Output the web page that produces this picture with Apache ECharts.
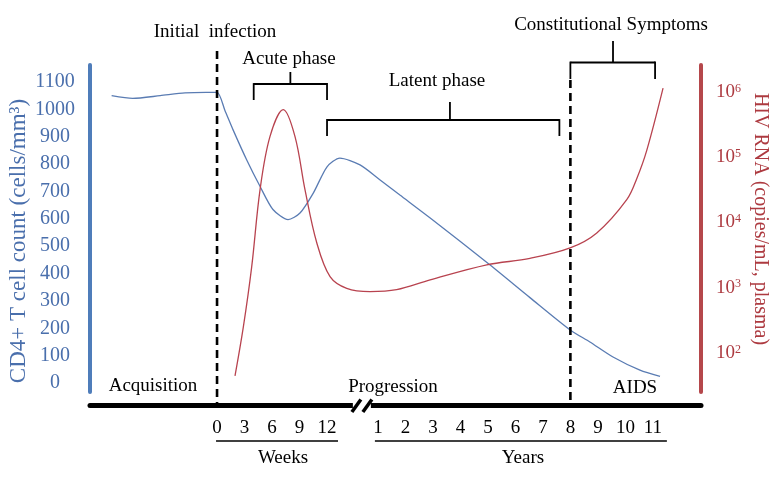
<!DOCTYPE html>
<html><head><meta charset="utf-8">
<script src="https://cdn.jsdelivr.net/npm/echarts@6/dist/echarts.min.js"></script>
<style>html,body{margin:0;padding:0;background:#fff}#c{width:780px;height:481px}</style>
</head><body><div id="c"></div>
<script>
// ---- tick labels ----
const weekTicks = [0, 3, 6, 9, 12];
const yearTicks = [1, 2, 3, 4, 5, 6, 7, 8, 9, 10, 11];
const cd4Ticks = [0, 100, 200, 300, 400, 500, 600, 700, 800, 900, 1000, 1100];
const rnaTicksLog10 = [2, 3, 4, 5, 6];

// ---- CD4+ T cell count (cells/mm3): [weeks, value] then [years, value] ----
const cd4Weeks = [[-11.5,1050],[-9.2,1040],[-6.2,1050],[-3.5,1060],[-1.2,1062],[0,1062],[0.87,995],[1.75,925],[3.24,815],[4.7,718],[6.1,634],[7.75,597],[9.05,621],[10.5,694],[12,790],[13.4,822],[15.6,797]];
const cd4Years = [[1.08,742],[1.8,687],[2.89,604],[5.08,431],[6.53,312],[7.99,194],[8.71,150],[9.55,95],[10.53,47],[11.26,24]];

// ---- HIV RNA (log10 copies/mL): [weeks, value] then [years, value] ----
const rnaWeeks = [[1.96,1.65],[2.87,2.40],[3.78,3.32],[4.69,4.50],[5.78,5.32],[7.23,5.73],[8.5,5.32],[9.6,4.50],[10.88,3.69],[12.33,3.17],[14.15,2.99]];
const rnaYears = [[0.71,2.94],[1.68,2.97],[2.9,3.12],[4.96,3.35],[6.53,3.45],[7.99,3.61],[8.96,3.84],[10.05,4.35],[10.42,4.68],[10.78,5.11],[11.37,6.06]];

// timeline with an axis break between weeks and years
const tlWeek = w => w / 3;
const tlYear = y => y + 4.85;

const SERIF = '"Liberation Serif","Times New Roman",serif';
const BLUE = '#5a7cb3', RED = '#b8434f';

const tickPos = [], tickText = {};
weekTicks.forEach(w => { const p = tlWeek(w); tickPos.push(p); tickText[p.toFixed(3)] = String(w); });
yearTicks.forEach(y => { const p = tlYear(y); tickPos.push(p); tickText[p.toFixed(3)] = String(y); });

const cd4Data = cd4Weeks.map(d => [tlWeek(d[0]), d[1]]).concat(cd4Years.map(d => [tlYear(d[0]), d[1]]));
const rnaData = rnaWeeks.map(d => [tlWeek(d[0]), d[1]]).concat(rnaYears.map(d => [tlYear(d[0]), d[1]]));

const chart = echarts.init(document.getElementById('c'), null, {renderer: 'canvas'});
chart.setOption({
  animation: false,
  backgroundColor: '#fff',
  grid: {left: 90, right: 79, top: 65, bottom: 89, containLabel: false},
  xAxis: {
    type: 'value', min: -4.62, max: 17.6, offset: 13,
    axisLine: {show: true, onZero: false, lineStyle: {color: '#000', width: 5}},
    axisTick: {show: false}, splitLine: {show: false},
    axisLabel: {
      customValues: tickPos, margin: 14, color: '#000', fontSize: 19, fontFamily: SERIF,
      formatter: v => tickText[Number(v).toFixed(3)] || ''
    }
  },
  yAxis: [{
    type: 'value', min: -32.9, max: 1162.1, position: 'left',
    axisLine: {show: true, onZero: false, lineStyle: {color: '#4f7dba', width: 4}},
    axisTick: {show: false}, splitLine: {show: false},
    axisLabel: {customValues: cd4Ticks, align: 'center', margin: 35, color: '#4a6fac', fontSize: 20, fontFamily: SERIF,
      formatter: v => String(v)}
  }, {
    type: 'value', min: 1.402, max: 6.414, position: 'right',
    axisLine: {show: true, onZero: false, lineStyle: {color: '#b5474b', width: 4}},
    axisTick: {show: false}, splitLine: {show: false},
    axisLabel: {
      customValues: rnaTicksLog10, align: 'left', margin: 15,
      formatter: v => '{b|10}{s|' + v + '}',
      rich: {
        b: {fontSize: 19, fontFamily: SERIF, color: '#ad3a40'},
        s: {fontSize: 12, fontFamily: SERIF, color: '#ad3a40', verticalAlign: 'top'}
      }
    }
  }],
  series: [{
    name: 'CD4', type: 'line', yAxisIndex: 0, data: cd4Data, smooth: 0.25,
    symbol: 'none', lineStyle: {color: BLUE, width: 1.3}
  }, {
    name: 'HIV RNA', type: 'line', yAxisIndex: 1, data: rnaData, smooth: 0.35,
    symbol: 'none', lineStyle: {color: RED, width: 1.3}
  }]
});

// ---- annotations positioned through the x axis ----
const px = u => chart.convertToPixel({xAxisIndex: 0}, u);
const xInf = px(tlWeek(0)), xAids = px(tlYear(8));
const xBreak = px(tlWeek(15.8));
const G = [];
const line = (x1, y1, x2, y2, w, dash) => G.push({type: 'line', shape: {x1, y1, x2, y2},
  style: {stroke: '#000', lineWidth: w, lineDash: dash || null}, z: 10});
const text = (x, y, t, opt) => G.push(Object.assign({type: 'text', x, y, z: 10,
  style: Object.assign({text: t, fill: '#000', font: '19px ' + SERIF, textAlign: 'center', textVerticalAlign: 'middle'}, opt || {})}));
const bracket = (xa, xb, xm, yh, yEnd, yTop) => {
  line(xa, yh, xb, yh, 1.8); line(xa, yh - 0.9, xa, yEnd, 1.8); line(xb, yh - 0.9, xb, yEnd, 1.8); line(xm, yTop, xm, yh, 1.8);
};

// dashed lines
line(xInf, 51, xInf, 403, 2.6, [8, 5]);
line(xAids, 80, xAids, 403, 2.6, [8, 5]);
// brackets
bracket(px(tlWeek(4)), px(tlWeek(12)), px(tlWeek(8)), 84, 100, 72);
bracket(px(tlWeek(12)), px(tlYear(7.6)), px(tlYear(3.62)), 120, 136, 102);
bracket(xAids, px(tlYear(11.08)), px(tlYear(9.55)), 62.5, 79, 41);
// axis break
G.push({type: 'rect', shape: {x: xBreak - 9, y: 399, width: 18, height: 12}, style: {fill: '#fff'}, z: 9});
line(xBreak - 10, 412, xBreak - 1, 399.5, 3.5);
line(xBreak + 1, 412, xBreak + 10, 399.5, 3.5);
// underlines
line(px(tlWeek(0)) - 1, 441, px(tlWeek(12)) + 11, 441, 1.3);
line(px(tlYear(1)) - 3, 441, px(tlYear(11)) + 14, 441, 1.3);
// texts
text(215, 32, 'Initial  infection');
text(289, 59, 'Acute phase');
text(437, 81, 'Latent phase');
text(611, 25, 'Constitutional Symptoms');
text(153, 386, 'Acquisition');
text(393, 387, 'Progression');
text(635, 388, 'AIDS');
text(283, 458, 'Weeks');
text(523, 458, 'Years');
// axis names
G.push({type: 'text', x: 19, y: 241, rotation: Math.PI / 2, z: 10,
  style: {text: 'CD4+ T cell count (cells/mm³)', fill: '#4a6fac', font: '23px ' + SERIF, textAlign: 'center', textVerticalAlign: 'middle'}});
G.push({type: 'text', x: 760, y: 219, rotation: -Math.PI / 2, z: 10,
  style: {text: 'HIV RNA (copies/mL, plasma)', fill: '#ad3a40', font: '20px ' + SERIF, textAlign: 'center', textVerticalAlign: 'middle'}});

chart.setOption({graphic: G});
</script>
</body></html>
